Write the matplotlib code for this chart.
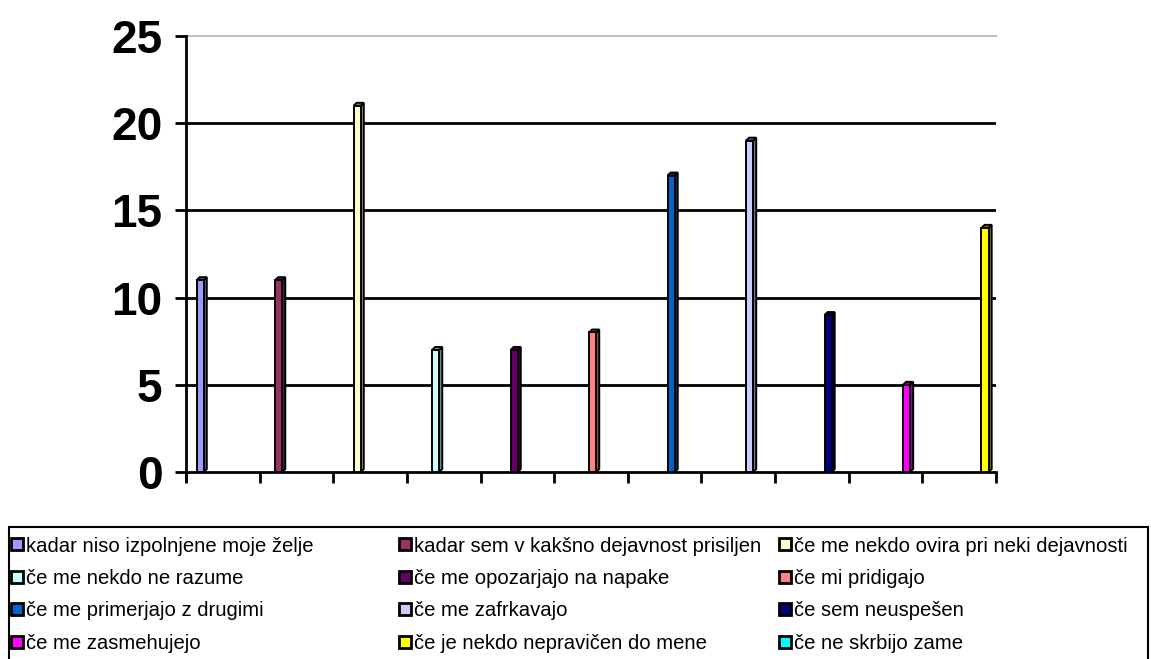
import numpy as np
import matplotlib.pyplot as plt
from matplotlib.patches import Polygon, Rectangle
from matplotlib.colors import to_rgb

plt.rcParams['font.family'] = ['Liberation Sans', 'DejaVu Sans']

labels = ['kadar niso izpolnjene moje želje',
          'kadar sem v kakšno dejavnost prisiljen',
          'če me nekdo ovira pri neki dejavnosti',
          'če me nekdo ne razume',
          'če me opozarjajo na napake',
          'če mi pridigajo',
          'če me primerjajo z drugimi',
          'če me zafrkavajo',
          'če sem neuspešen',
          'če me zasmehujejo',
          'če je nekdo nepravičen do mene',
          'če ne skrbijo zame']
values = [11, 11, 21, 7, 7, 8, 17, 19, 9, 5, 14, 0]
colors = ['#9999FF', '#993366', '#FFFFCC', '#CCFFFF', '#660066', '#FF8080',
          '#0066CC', '#CCCCFF', '#000080', '#FF00FF', '#FFFF00', '#00FFFF']

W, H = 1151, 659
fig = plt.figure(figsize=(W/100, H/100), dpi=100)
ax = fig.add_axes([186/W, 1-472/H, 810/W, 436/H])
ax.set_xlim(-0.18, 10.14)
ax.set_ylim(0, 25)

# gridlines
for y in [5, 10, 15, 20]:
    ax.axhline(y, color='black', lw=2, zorder=1)
ax.axhline(25, color='#c0c0c0', lw=1.5, zorder=1, clip_on=False)

# thin 3D-looking columns
w = 0.09
dx = 0.04
dy = 0.17
xs = np.arange(len(values))
for x, h, c in zip(xs, values, colors):
    if h == 0:
        continue
    side = tuple(v * 0.6 for v in to_rgb(c))
    ax.add_patch(Polygon([(x + w/2, 0), (x + w/2 + dx, dy), (x + w/2 + dx, h + dy), (x + w/2, h)],
                         closed=True, fc=side, ec='black', lw=1.4, zorder=3))
    ax.add_patch(Polygon([(x - w/2, h), (x + w/2, h), (x + w/2 + dx, h + dy), (x - w/2 + dx, h + dy)],
                         closed=True, fc=side, ec='black', lw=1.4, zorder=3))
    ax.bar(x, h, width=w, color=c, edgecolor='black', lw=1.4, zorder=4)

for s in ['top', 'right']:
    ax.spines[s].set_visible(False)
ax.spines['left'].set_linewidth(2)
ax.spines['bottom'].set_linewidth(2)
ax.spines['left'].set_bounds(-0.5, 25)

ax.set_yticks([0, 5, 10, 15, 20, 25])
ax.tick_params(axis='y', length=8, width=2, pad=9, labelsize=33)
for t in ax.get_yticklabels():
    t.set_fontweight('bold')

x0, x1 = ax.get_xlim()
ax.set_xticks(np.linspace(x0, x1, 12))
ax.set_xticklabels([])
ax.tick_params(axis='x', length=8, width=2, direction='out')

# legend box (3 columns, filled row by row)
fig.patches.append(Rectangle((9/W, 1-662/H), 1139/W, 135/H, transform=fig.transFigure,
                             fill=False, ec='black', lw=1.5))
col_marker = [11, 399, 779]
row_y = [544, 576.5, 609, 641.5]
ms = 12
for i, (lab, c) in enumerate(zip(labels, colors)):
    r, k = divmod(i, 3)
    mx, my = col_marker[k], row_y[r]
    fig.patches.append(Rectangle((mx/W, 1-(my+ms/2)/H), ms/W, ms/H, transform=fig.transFigure,
                                 fc=c, ec='black', lw=2))
    fig.text((mx+ms+3)/W, 1-my/H, lab, fontsize=14.6, va='center_baseline', ha='left')

fig.savefig('out.png', dpi=100)
